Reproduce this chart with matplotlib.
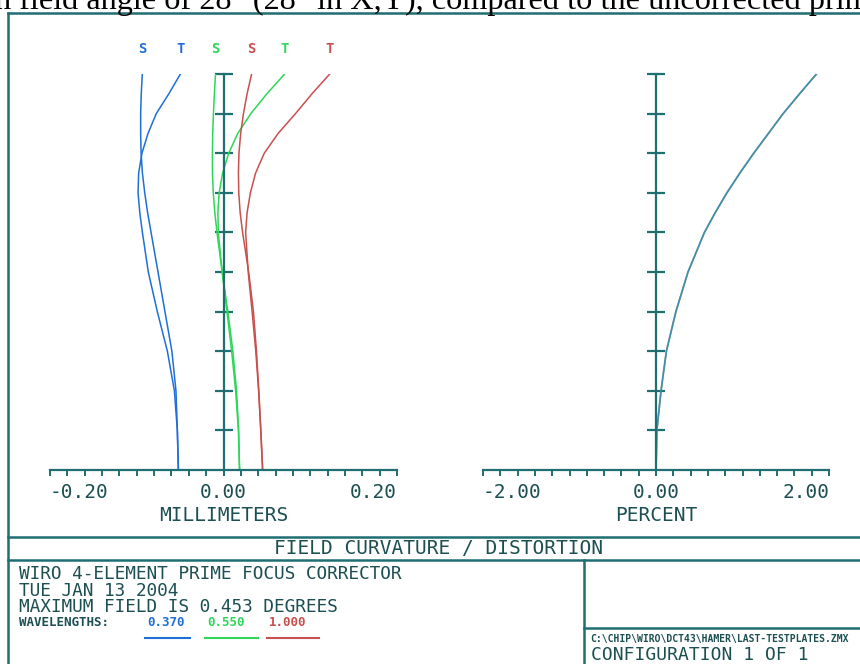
import numpy as np
import matplotlib
matplotlib.use("Agg")
import matplotlib.pyplot as plt
from matplotlib.ticker import MultipleLocator

# relative field (0 = on axis, 1 = 0.453 deg)
field = [0.0, 0.1, 0.2, 0.3, 0.4, 0.5, 0.6, 0.65, 0.7, 0.75, 0.8, 0.85, 0.9, 0.95, 1.0]

# field curvature in mm, sagittal / tangential per wavelength
blue_s = [-0.052, -0.0532, -0.0548, -0.0595, -0.0675, -0.0755, -0.0835, -0.0875,
          -0.0908, -0.0935, -0.095, -0.0955, -0.0955, -0.0948, -0.0936]
blue_t = [-0.052, -0.0532, -0.0566, -0.0647, -0.0763, -0.0867, -0.0935, -0.0965,
          -0.0985, -0.0978, -0.094, -0.087, -0.0775, -0.063, -0.0497]
green_s = [0.0185, 0.0175, 0.015, 0.0108, 0.005, -0.0015, -0.0075, -0.01,
           -0.0118, -0.0127, -0.0128, -0.0124, -0.0116, -0.0105, -0.0092]
green_t = [0.0185, 0.0172, 0.014, 0.0094, 0.004, -0.0015, -0.006, -0.0065,
           -0.005, -0.001, 0.006, 0.0165, 0.0315, 0.05, 0.0705]
red_s = [0.0451, 0.043, 0.0407, 0.038, 0.0345, 0.029, 0.022, 0.0192,
         0.0176, 0.0172, 0.0178, 0.0198, 0.023, 0.0272, 0.0324]
red_t = [0.0451, 0.043, 0.0405, 0.0372, 0.033, 0.0285, 0.0255, 0.0272,
         0.031, 0.037, 0.047, 0.063, 0.083, 0.102, 0.1225]

# distortion in percent (the three wavelengths overlap)
distortion = [0.0, 0.01, 0.058, 0.12, 0.23, 0.37, 0.56, 0.685,
              0.82, 0.97, 1.13, 1.30, 1.47, 1.66, 1.855]

wavelengths = [0.370, 0.550, 1.000]
mm_labels = ["-0.20", "0.00", "0.20"]
pct_labels = ["-2.00", "0.00", "2.00"]

BLUE = "#1f6fd8"
GREEN = "#2fd65a"
RED = "#c8504e"
AXIS = "#1f6f72"
TEXT = "#1c4f52"
colors = [BLUE, GREEN, RED]

plt.rcParams['font.family'] = ['DejaVu Sans Mono', 'DejaVu Sans']

W, H = 860, 664
fig = plt.figure(figsize=(W / 100, H / 100), dpi=100)


def px_rect(x0, y0, x1, y1):
    return [x0 / W, 1 - y1 / H, (x1 - x0) / W, (y1 - y0) / H]


def style_axes(ax, half, step, labels, xlabel):
    ax.set_xlim(-half, half)
    ax.set_ylim(0, 1)
    ax.patch.set_alpha(0)
    for s in ['top', 'right']:
        ax.spines[s].set_visible(False)
    ax.spines['left'].set_position(('data', 0))
    ax.spines['left'].set_bounds(0, 1)
    for s in ['left', 'bottom']:
        ax.spines[s].set_color(AXIS)
        ax.spines[s].set_linewidth(1.6)
    ax.set_yticks(np.arange(1, 11) / 10)
    ax.tick_params(axis='y', direction='inout', length=13, width=1.6,
                   color=AXIS, labelleft=False)
    ax.set_xticks([-half, 0, half], labels)
    ax.xaxis.set_minor_locator(MultipleLocator(step))
    ax.tick_params(axis='x', which='both', direction='out', length=4.5,
                   width=1.4, color=AXIS, pad=5, labelsize=14, labelcolor=TEXT)
    ticklabels = ax.get_xticklabels()
    ticklabels[0].set_ha('left')
    ticklabels[-1].set_ha('right')
    ax.set_xlabel(xlabel, fontsize=14, color=TEXT, labelpad=3)


# field curvature
ax1 = fig.add_axes(px_rect(50, 74, 397, 470))
style_axes(ax1, 0.2, 0.02, mm_labels, "MILLIMETERS")
curves = [(blue_s, BLUE, 'S'), (blue_t, BLUE, 'T'),
          (green_s, GREEN, 'S'), (green_t, GREEN, 'T'),
          (red_s, RED, 'S'), (red_t, RED, 'T')]
for xs, c, lab in curves:
    ax1.plot(xs, field, color=c, lw=1.1, solid_joinstyle='round')
    ax1.text(xs[-1], 1.063, lab, transform=ax1.get_xaxis_transform(),
             ha='center', va='center', color=c, fontsize=10, fontweight='bold')

# distortion
ax2 = fig.add_axes(px_rect(483, 74, 829, 470))
style_axes(ax2, 2.0, 0.2, pct_labels, "PERCENT")
for c in [RED, GREEN, BLUE]:
    ax2.plot(distortion, field, color=c, lw=1.2, alpha=0.6,
             solid_joinstyle='round')

# frame and title block
fa = fig.add_axes([0, 0, 1, 1], zorder=-1)
fa.set_xlim(0, W)
fa.set_ylim(H, 0)
fa.axis('off')
frame = dict(color=AXIS, lw=1.8)
fa.plot([8, W], [13, 13], **frame)
fa.plot([8, 8], [13, H], **frame)
fa.plot([8, W], [537, 537], **frame)
fa.plot([8, W], [560, 560], **frame)
fa.plot([584, 584], [560, H], **frame)
fa.plot([584, W], [628, 628], **frame)

fa.text(439, 549, "FIELD CURVATURE / DISTORTION", ha='center', va='center',
        fontsize=14, color=TEXT)
info = ["WIRO 4-ELEMENT PRIME FOCUS CORRECTOR",
        "TUE JAN 13 2004",
        "MAXIMUM FIELD IS 0.453 DEGREES"]
for i, line in enumerate(info):
    fa.text(19, 574 + 16.7 * i, line, va='center', fontsize=12.8, color=TEXT)
fa.text(19, 623, "WAVELENGTHS:", va='center', fontsize=9, fontweight='bold',
        color=TEXT)
for wl, c, x0, x1 in zip(wavelengths, colors, [145, 205, 267], [190, 258, 319]):
    fa.text(x0 + 2, 623, f"{wl:.3f}", va='center', fontsize=9,
            fontweight='bold', color=c)
    fa.plot([x0, x1], [638, 638], color=c, lw=1.5)

fa.text(590, 639, r"C:\CHIP\WIRO\DCT43\HAMER\LAST-TESTPLATES.ZMX",
        va='center', fontsize=7, fontweight='bold', color=TEXT)
fa.text(591, 664, "CONFIGURATION 1 OF 1", va='bottom', fontsize=13,
        color=TEXT)

# page text cut off at the top of the scan
fig.text(-0.006, 1 - 8.5 / H,
         'n field angle of 28" (28" in X,Y), compared to the uncorrected prime',
         family='Liberation Serif', fontsize=23.2, va='baseline', ha='left',
         color='black')

fig.savefig("out.png", dpi=100)
